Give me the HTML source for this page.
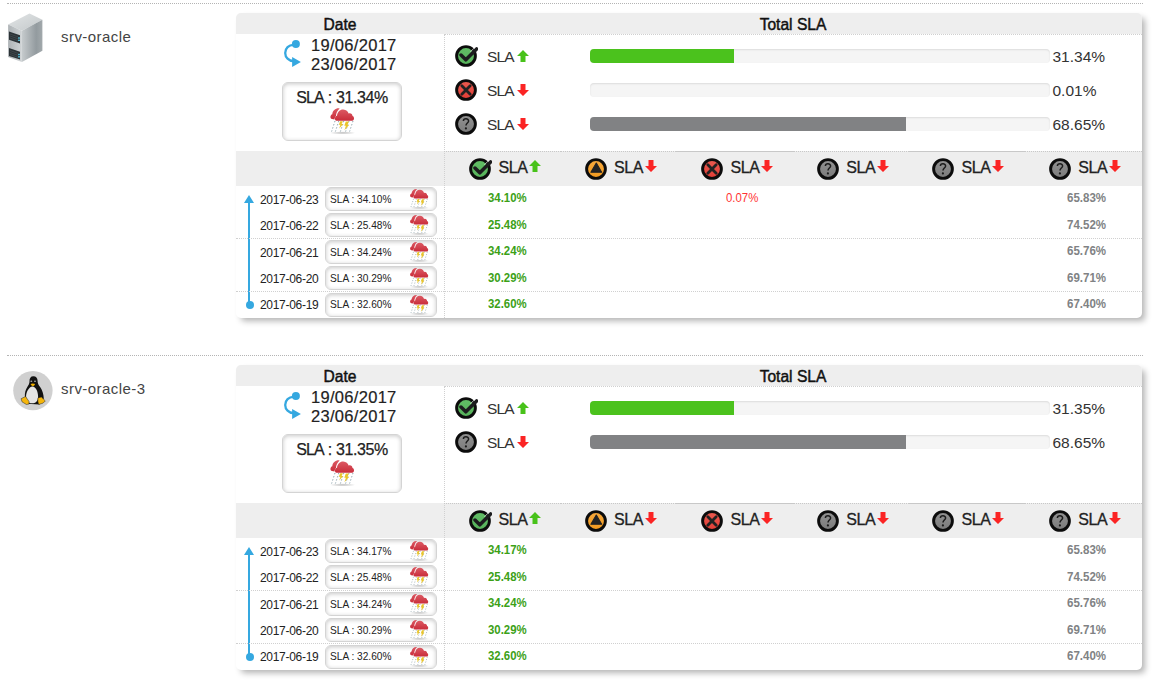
<!DOCTYPE html>
<html><head><meta charset="utf-8"><title>SLA</title><style>
*{box-sizing:border-box}
html,body{margin:0;padding:0;background:#fff}
body{width:1153px;height:682px;overflow:hidden;position:relative;font-family:"Liberation Sans", sans-serif;color:#333}
.sec{position:absolute;left:0;width:1153px;height:352px}
.hr{position:absolute;left:7px;top:3px;width:1136px;border-top:1px dotted #b4b4b4}
.hicon{position:absolute}
.host{position:absolute;left:61px;top:28px;font-size:15px;letter-spacing:0.45px;color:#444;white-space:nowrap}
.panel{position:absolute;left:236px;top:13px;width:906px;height:305px;background:#fff;border-radius:5px;box-shadow:4px 4px 6px -1px rgba(0,0,0,.3)}
.hdr{position:absolute;left:0;top:0;width:906px;height:21px;background:#eee;border-radius:5px 5px 0 0}
.t{position:absolute;white-space:nowrap;line-height:1}
.hd{top:4.1px;text-align:center;font-size:15.6px;color:#111;-webkit-text-stroke:0.45px #111}
.dl-h{position:absolute;height:0;border-top:1px dotted #d0d0d0}
.dl-v{position:absolute;width:0;border-left:1px dotted #d0d0d0}
.rng{position:absolute;left:46px;top:26px;width:20px;height:30px}
.dt{left:75px;font-size:16.5px;color:#222;letter-spacing:0.3px;-webkit-text-stroke:0.2px #222}
.bigbox{position:absolute;left:46px;top:69px;width:120px;height:59px;border:1px solid #d4d4d4;border-radius:6px;box-shadow:inset 0 1px 4px rgba(0,0,0,.22)}
.wx{position:absolute}
.st{position:absolute;width:24px;height:24px}
.ar{position:absolute;width:12px;height:12px}
.sla{font-size:15.5px;color:#333;letter-spacing:-0.8px}
.bar{position:absolute;left:354px;width:460px;height:14px;background:#f5f5f5;border-radius:4px;box-shadow:inset 0 1px 2px rgba(0,0,0,.1);overflow:hidden}
.fill{height:14px}
.fill.ok{background:#4bc21d}
.fill.crit{background:#e33}
.fill.unk{background:#818284}
.pct{left:816.5px;font-size:15.5px;color:#333}
.sub{position:absolute;left:0;top:138px;width:906px;height:35px;background:#eee}
.sb-top{position:absolute;top:138px;height:0;border-top:1px #c8c8c8}
.slah{font-size:16px;color:#222;letter-spacing:-0.4px;-webkit-text-stroke:0.3px #222}
.tl-line{position:absolute;left:12px;top:189px;width:2px;height:103px;background:#35a8e0}
.tl-dot{position:absolute;left:9.7px;top:287.8px;width:8px;height:8px;border-radius:50%;background:#35a8e0}
.tl-arrow{position:absolute;left:8.4px;top:181.6px;width:0;height:0;border-left:5.3px solid transparent;border-right:5.2px solid transparent;border-bottom:8.2px solid #35a8e0}
.rd{left:24px;font-size:12px;letter-spacing:-0.3px;color:#222}
.sbox{position:absolute;left:89px;width:112px;height:23.5px;border:1px solid #d4d4d4;border-radius:6px;box-shadow:inset 0 1px 4px rgba(0,0,0,.22)}
.rs{left:94px;font-size:11.6px;color:#222;transform:scaleX(0.875);transform-origin:0 0}
.vok{left:251.8px;font-size:12.6px;font-weight:bold;color:#3ca117;transform:scaleX(0.905);transform-origin:0 0}
.vcrit{left:490px;font-size:12.4px;color:#f33;transform:scaleX(0.92);transform-origin:0 0}
.vunk{left:831px;font-size:12.6px;font-weight:bold;color:#808284;transform:scaleX(0.915);transform-origin:0 0}
</style></head>
<body>
<svg width="0" height="0" style="position:absolute">
<defs>
<linearGradient id="g-ok" x1="0" y1="0" x2="0" y2="1"><stop offset="0" stop-color="#62bd66"/><stop offset="1" stop-color="#56b25a"/></linearGradient>
<linearGradient id="g-crit" x1="0" y1="0" x2="0" y2="1"><stop offset="0" stop-color="#ea5b50"/><stop offset="1" stop-color="#e23d36"/></linearGradient>
<linearGradient id="g-unk" x1="0" y1="0" x2="0" y2="1"><stop offset="0" stop-color="#939393"/><stop offset="1" stop-color="#7a7a7a"/></linearGradient>
<linearGradient id="g-warn" x1="0" y1="0" x2="0" y2="1"><stop offset="0" stop-color="#f6a93e"/><stop offset="1" stop-color="#f29a1e"/></linearGradient>
<symbol id="i-ok" viewBox="0 0 24 24"><circle cx="12" cy="12" r="9.4" fill="url(#g-ok)" stroke="#0c0c0c" stroke-width="2.9"/><path d="M7 11 L11.8 15.8 L22.6 4.9" fill="none" stroke="#1c1c1e" stroke-width="3.5" stroke-linecap="round" stroke-linejoin="round"/><path d="M16.5 7.7 L20.2 4" fill="none" stroke="#fff" stroke-opacity="0.85" stroke-width="0.8"/></symbol>
<symbol id="i-crit" viewBox="0 0 24 24"><circle cx="12" cy="12" r="9.4" fill="url(#g-crit)" stroke="#0c0c0c" stroke-width="2.9"/><path d="M7.8 7.8 L16.2 16.2 M16.2 7.8 L7.8 16.2" stroke="#222" stroke-width="2.8" stroke-linecap="round"/></symbol>
<symbol id="i-unk" viewBox="0 0 24 24"><circle cx="12" cy="12" r="9.4" fill="url(#g-unk)" stroke="#0c0c0c" stroke-width="2.9"/><path d="M9.4 8.9 C9.4 6.2 14.6 6.0 14.6 8.9 C14.6 11 12 11.2 12 13.6" fill="none" stroke="#1c1c1c" stroke-width="1.5"/><circle cx="11.9" cy="16.4" r="1.1" fill="#1c1c1c"/></symbol>
<symbol id="i-warn" viewBox="0 0 24 24"><circle cx="12" cy="12" r="9.4" fill="url(#g-warn)" stroke="#0c0c0c" stroke-width="2.9"/><path d="M12.3 6 L17.7 15.2 L6.9 15.2 Z" fill="#232323" stroke="#232323" stroke-width="1.1" stroke-linejoin="round"/></symbol>
<symbol id="a-up" viewBox="0 0 12 12"><path d="M6 0 L12 6 L8.5 6 L8.5 12 L3.5 12 L3.5 6 L0 6 Z" fill="#48c21a"/></symbol>
<symbol id="a-dn" viewBox="0 0 12 12"><path d="M3.5 0 L8.5 0 L8.5 6 L12 6 L6 12 L0 6 L3.5 6 Z" fill="#fb2424"/></symbol>
<radialGradient id="wx-shadow" cx="0.5" cy="0.5" r="0.5"><stop offset="0" stop-color="#bbb"/><stop offset="1" stop-color="#bbb" stop-opacity="0"/></radialGradient>
<linearGradient id="wx-red" x1="0" y1="0" x2="0" y2="1"><stop offset="0" stop-color="#dc5a64"/><stop offset="1" stop-color="#c92d3a"/></linearGradient>
<symbol id="wx" viewBox="0 0 28 28">
<ellipse cx="13.6" cy="25.9" rx="13" ry="1.6" fill="url(#wx-shadow)"/>
<g stroke="#7f97a1" stroke-width="0.9" stroke-dasharray="1.3 2"><path d="M6 14 L2.6 24.5"/><path d="M9.8 14 L6.4 24.5"/><path d="M14.8 14 L11.4 24.5"/><path d="M20 14 L16.6 24.5"/><path d="M24 14 L20.6 24.5"/></g>
<path d="M3 12 C0.8 11.5 1 7.8 3.3 7.2 C3.5 3.5 7 0.8 10.6 1.4 C8.4 3.5 7 6.2 7 9 C6 10 5.5 11.5 5.5 12.5 Z" fill="url(#wx-red)"/>
<path d="M7.5 13.8 C5.3 13.5 5.4 9.2 8 8.8 C8.3 4.8 11 2.3 14.3 2.4 C17.2 2.5 19 4.5 19.6 6.4 C21.5 5.5 23.6 7 23.5 9 C25.6 9.5 25.6 13.6 23.2 13.8 Z" fill="url(#wx-red)"/>
<path d="M11.2 14.3 L13.9 14.3 L12.6 17 L14.2 17 L10.2 21.5 L11.4 17.8 L9.8 17.8 Z" fill="#eac52a"/>
<path d="M16.8 14.6 L20 14.6 L18.4 17.9 L20.1 17.9 L15.4 23.2 L16.9 18.8 L15.3 18.8 Z" fill="#eac52a"/>
</symbol>
</defs></svg>
<div class="sec" style="top:0px">
<div class="hr"></div>
<svg class="hicon" style="left:6px;top:11px;width:40px;height:54px" viewBox="6 11 40 54">
<defs>
<linearGradient id="sv-top" x1="0" y1="0" x2="1" y2="1"><stop offset="0" stop-color="#e2e5e6"/><stop offset="1" stop-color="#c3c8ca"/></linearGradient>
<linearGradient id="sv-right" x1="0" y1="0" x2="1" y2="0"><stop offset="0" stop-color="#c6cbcd"/><stop offset="0.3" stop-color="#b0b6b9"/><stop offset="0.7" stop-color="#939b9f"/><stop offset="1" stop-color="#a2a9ac"/></linearGradient>
<linearGradient id="sv-front" x1="0" y1="0" x2="1" y2="0"><stop offset="0" stop-color="#aeb3b6"/><stop offset="1" stop-color="#d0d4d6"/></linearGradient>
</defs>
<path d="M8.1 24.5 L29.5 13.4 L42.4 19.8 L21.9 30.7 Z" fill="url(#sv-top)"/>
<path d="M21.9 30.7 L42.4 19.8 L42.4 50.7 L21.9 62.1 Z" fill="url(#sv-right)"/>
<path d="M8.1 24.5 L21.9 30.7 L21.9 62.1 L8.1 56.9 Z" fill="url(#sv-front)"/>
<path d="M9 31.5 L20 35.3 L20 43.5 L9 39.8 Z" fill="#2b3236"/>
<path d="M9 48 L20 51.8 L20 59.6 L9 56 Z" fill="#2b3236"/>
<path d="M10 34 L18 36.8 M10 36 L18 38.8 M10 38 L18 40.8 M10 50.5 L18 53.3 M10 52.5 L18 55.3 M10 54.5 L18 57.3" stroke="#4b5358" stroke-width="0.6"/>
<rect x="18.2" y="37.3" width="1.6" height="1.4" fill="#5fd0ee"/><rect x="18.2" y="39.6" width="1.6" height="1.4" fill="#5fd0ee"/>
<rect x="18.2" y="53.8" width="1.6" height="1.4" fill="#5fd0ee"/><rect x="18.2" y="56.1" width="1.6" height="1.4" fill="#5fd0ee"/>
</svg>
<div class="host">srv-oracle</div>
<div class="panel">
<div class="hdr"></div>
<div class="t hd" style="left:0;width:208px">Date</div>
<div class="t hd" style="left:208px;width:698px">Total SLA</div>
<div class="dl-h" style="left:208px;top:21px;width:698px"></div>
<svg class="rng" viewBox="0 0 20 30"><path d="M11.3 5.8 A8.1 8.1 0 0 0 11.3 22" fill="none" stroke="#35a8e0" stroke-width="2.3"/><circle cx="13.9" cy="5" r="4" fill="#35a8e0"/><path d="M10.1 17.9 L18.9 22.9 L10.1 27.9 Z" fill="#35a8e0"/></svg>
<div class="t dt" style="top:24px">19/06/2017</div>
<div class="t dt" style="top:43px">23/06/2017</div>
<div class="bigbox"><div class="t" style="left:0;width:118px;top:6.5px;text-align:center;font-size:16px;color:#222;letter-spacing:-0.4px;-webkit-text-stroke:0.25px #222"><span style="letter-spacing:-0.9px">SLA</span> : 31.34%</div></div>
<svg class="wx" style="left:93px;top:94px;width:28px;height:28px" viewBox="0 0 28 28"><use href="#wx"/></svg>
<svg class="st" style="left:218px;top:31px" viewBox="0 0 24 24"><use href="#i-ok"/></svg>
<div class="t sla" style="left:251px;top:35.6px">SLA</div>
<svg class="ar" style="left:281px;top:37px" viewBox="0 0 12 12"><use href="#a-up"/></svg>
<div class="bar" style="top:36px"><div class="fill ok" style="width:31.34%"></div></div>
<div class="t pct" style="top:35.6px">31.34%</div>
<svg class="st" style="left:218px;top:65px" viewBox="0 0 24 24"><use href="#i-crit"/></svg>
<div class="t sla" style="left:251px;top:69.6px">SLA</div>
<svg class="ar" style="left:281px;top:71px" viewBox="0 0 12 12"><use href="#a-dn"/></svg>
<div class="bar" style="top:70px"><div class="fill crit" style="width:0.01%"></div></div>
<div class="t pct" style="top:69.6px">0.01%</div>
<svg class="st" style="left:218px;top:99px" viewBox="0 0 24 24"><use href="#i-unk"/></svg>
<div class="t sla" style="left:251px;top:103.6px">SLA</div>
<svg class="ar" style="left:281px;top:105px" viewBox="0 0 12 12"><use href="#a-dn"/></svg>
<div class="bar" style="top:104px"><div class="fill unk" style="width:68.65%"></div></div>
<div class="t pct" style="top:103.6px">68.65%</div>
<div class="sub"></div>
<div class="dl-v" style="left:208px;top:21px;height:284px"></div>
<div class="sb-top" style="left:208px;width:117px;border-top-style:dotted"></div>
<div class="sb-top" style="left:325px;width:115px;border-top-style:dotted"></div>
<div class="sb-top" style="left:440px;width:118px;border-top-style:solid"></div>
<div class="sb-top" style="left:558px;width:115px;border-top-style:dotted"></div>
<div class="sb-top" style="left:673px;width:115px;border-top-style:solid"></div>
<div class="sb-top" style="left:788px;width:118px;border-top-style:dotted"></div>
<svg class="st" style="left:232px;top:144px" viewBox="0 0 24 24"><use href="#i-ok"/></svg>
<div class="t slah" style="left:262.5px;top:147px">SLA</div>
<svg class="ar" style="left:293px;top:147px" viewBox="0 0 12 12"><use href="#a-up"/></svg>
<svg class="st" style="left:347.6px;top:144px" viewBox="0 0 24 24"><use href="#i-warn"/></svg>
<div class="t slah" style="left:378.1px;top:147px">SLA</div>
<svg class="ar" style="left:408.6px;top:147px" viewBox="0 0 12 12"><use href="#a-dn"/></svg>
<svg class="st" style="left:464.1px;top:144px" viewBox="0 0 24 24"><use href="#i-crit"/></svg>
<div class="t slah" style="left:494.6px;top:147px">SLA</div>
<svg class="ar" style="left:525.1px;top:147px" viewBox="0 0 12 12"><use href="#a-dn"/></svg>
<svg class="st" style="left:579.8px;top:144px" viewBox="0 0 24 24"><use href="#i-unk"/></svg>
<div class="t slah" style="left:610.3px;top:147px">SLA</div>
<svg class="ar" style="left:640.8px;top:147px" viewBox="0 0 12 12"><use href="#a-dn"/></svg>
<svg class="st" style="left:694.9px;top:144px" viewBox="0 0 24 24"><use href="#i-unk"/></svg>
<div class="t slah" style="left:725.4px;top:147px">SLA</div>
<svg class="ar" style="left:755.9px;top:147px" viewBox="0 0 12 12"><use href="#a-dn"/></svg>
<svg class="st" style="left:811.7px;top:144px" viewBox="0 0 24 24"><use href="#i-unk"/></svg>
<div class="t slah" style="left:842.2px;top:147px">SLA</div>
<svg class="ar" style="left:872.7px;top:147px" viewBox="0 0 12 12"><use href="#a-dn"/></svg>
<div class="tl-line"></div><div class="tl-dot"></div><div class="tl-arrow"></div>
<div class="t rd" style="top:180.6px">2017-06-23</div>
<div class="sbox" style="top:174px"></div>
<div class="t rs" style="top:179.6px">SLA : 34.10%</div>
<svg class="wx" style="left:173px;top:175px;width:21.5px;height:21.5px" viewBox="0 0 28 28"><use href="#wx"/></svg>
<div class="t vok" style="top:179.4px">34.10%</div>
<div class="t vcrit" style="top:179.4px">0.07%</div>
<div class="t vunk" style="top:179.4px">65.83%</div>
<div class="t rd" style="top:206.9px">2017-06-22</div>
<div class="sbox" style="top:200px"></div>
<div class="t rs" style="top:205.9px">SLA : 25.48%</div>
<svg class="wx" style="left:173px;top:201px;width:21.5px;height:21.5px" viewBox="0 0 28 28"><use href="#wx"/></svg>
<div class="t vok" style="top:205.70000000000002px">25.48%</div>
<div class="t vunk" style="top:205.70000000000002px">74.52%</div>
<div class="t rd" style="top:233.6px">2017-06-21</div>
<div class="sbox" style="top:227px"></div>
<div class="t rs" style="top:232.6px">SLA : 34.24%</div>
<svg class="wx" style="left:173px;top:228px;width:21.5px;height:21.5px" viewBox="0 0 28 28"><use href="#wx"/></svg>
<div class="t vok" style="top:232.4px">34.24%</div>
<div class="t vunk" style="top:232.4px">65.76%</div>
<div class="t rd" style="top:259.7px">2017-06-20</div>
<div class="sbox" style="top:253px"></div>
<div class="t rs" style="top:258.7px">SLA : 30.29%</div>
<svg class="wx" style="left:173px;top:254px;width:21.5px;height:21.5px" viewBox="0 0 28 28"><use href="#wx"/></svg>
<div class="t vok" style="top:258.5px">30.29%</div>
<div class="t vunk" style="top:258.5px">69.71%</div>
<div class="t rd" style="top:285.8px">2017-06-19</div>
<div class="sbox" style="top:280px"></div>
<div class="t rs" style="top:284.8px">SLA : 32.60%</div>
<svg class="wx" style="left:173px;top:281px;width:21.5px;height:21.5px" viewBox="0 0 28 28"><use href="#wx"/></svg>
<div class="t vok" style="top:284.6px">32.60%</div>
<div class="t vunk" style="top:284.6px">67.40%</div>
<div class="dl-h" style="left:0;top:225px;width:906px"></div>
<div class="dl-h" style="left:0;top:278px;width:906px"></div>
</div>
</div>
<div class="sec" style="top:352px">
<div class="hr"></div>
<svg class="hicon" style="left:13px;top:18px;width:40px;height:41px" viewBox="13 18 40 41">
<circle cx="32.9" cy="38.6" r="19.7" fill="#d0d0d0"/>
<path d="M33.4 24.3 C30.6 24.3 29.4 26.4 29.5 29.3 C29.6 31.5 28.6 33 27.3 35 C25.5 37.8 24.6 41 24.9 44.5 L27 51.8 L39.5 52.6 L43.8 46.5 C43.6 42 42.2 38 40.3 35.3 C38.6 33 37.6 31.5 37.6 29 C37.6 26 36 24.3 33.4 24.3 Z" fill="#111"/>
<path d="M32.4 34.6 C29 34.9 26 40.3 26.1 44.8 C26.2 49.4 29 51.3 32 51.3 C35.5 51.3 38.1 49.4 38.1 44.8 C38.1 39.8 35.9 34.8 32.4 34.6 Z" fill="#e4e4e4"/>
<ellipse cx="31.3" cy="29.3" rx="1" ry="0.8" fill="#aaa"/>
<ellipse cx="35" cy="29.3" rx="1" ry="0.8" fill="#aaa"/>
<path d="M30.5 32 Q32.8 30.8 35.2 32 Q34 34.2 32.8 34.2 Q31.5 34 30.5 32 Z" fill="#f0b000"/>
<path d="M21.1 46.7 L25.5 44.5 L29 49.4 L29 52 L26.4 52.5 L22 49.8 Z" fill="#f5b50a" stroke="#222" stroke-width="0.5" stroke-linejoin="round"/>
<path d="M37.9 45.9 L41.4 45 L45.3 48.9 L43.1 51.1 L38.7 52.5 L37.9 49.4 Z" fill="#f5b50a" stroke="#222" stroke-width="0.5" stroke-linejoin="round"/>
</svg>
<div class="host">srv-oracle-3</div>
<div class="panel">
<div class="hdr"></div>
<div class="t hd" style="left:0;width:208px">Date</div>
<div class="t hd" style="left:208px;width:698px">Total SLA</div>
<div class="dl-h" style="left:208px;top:21px;width:698px"></div>
<svg class="rng" viewBox="0 0 20 30"><path d="M11.3 5.8 A8.1 8.1 0 0 0 11.3 22" fill="none" stroke="#35a8e0" stroke-width="2.3"/><circle cx="13.9" cy="5" r="4" fill="#35a8e0"/><path d="M10.1 17.9 L18.9 22.9 L10.1 27.9 Z" fill="#35a8e0"/></svg>
<div class="t dt" style="top:24px">19/06/2017</div>
<div class="t dt" style="top:43px">23/06/2017</div>
<div class="bigbox"><div class="t" style="left:0;width:118px;top:6.5px;text-align:center;font-size:16px;color:#222;letter-spacing:-0.4px;-webkit-text-stroke:0.25px #222"><span style="letter-spacing:-0.9px">SLA</span> : 31.35%</div></div>
<svg class="wx" style="left:93px;top:94px;width:28px;height:28px" viewBox="0 0 28 28"><use href="#wx"/></svg>
<svg class="st" style="left:218px;top:31px" viewBox="0 0 24 24"><use href="#i-ok"/></svg>
<div class="t sla" style="left:251px;top:35.6px">SLA</div>
<svg class="ar" style="left:281px;top:37px" viewBox="0 0 12 12"><use href="#a-up"/></svg>
<div class="bar" style="top:36px"><div class="fill ok" style="width:31.35%"></div></div>
<div class="t pct" style="top:35.6px">31.35%</div>
<svg class="st" style="left:218px;top:65px" viewBox="0 0 24 24"><use href="#i-unk"/></svg>
<div class="t sla" style="left:251px;top:69.6px">SLA</div>
<svg class="ar" style="left:281px;top:71px" viewBox="0 0 12 12"><use href="#a-dn"/></svg>
<div class="bar" style="top:70px"><div class="fill unk" style="width:68.65%"></div></div>
<div class="t pct" style="top:69.6px">68.65%</div>
<div class="sub"></div>
<div class="dl-v" style="left:208px;top:21px;height:284px"></div>
<div class="sb-top" style="left:208px;width:117px;border-top-style:dotted"></div>
<div class="sb-top" style="left:325px;width:115px;border-top-style:dotted"></div>
<div class="sb-top" style="left:440px;width:118px;border-top-style:solid"></div>
<div class="sb-top" style="left:558px;width:115px;border-top-style:dotted"></div>
<div class="sb-top" style="left:673px;width:115px;border-top-style:solid"></div>
<div class="sb-top" style="left:788px;width:118px;border-top-style:dotted"></div>
<svg class="st" style="left:232px;top:144px" viewBox="0 0 24 24"><use href="#i-ok"/></svg>
<div class="t slah" style="left:262.5px;top:147px">SLA</div>
<svg class="ar" style="left:293px;top:147px" viewBox="0 0 12 12"><use href="#a-up"/></svg>
<svg class="st" style="left:347.6px;top:144px" viewBox="0 0 24 24"><use href="#i-warn"/></svg>
<div class="t slah" style="left:378.1px;top:147px">SLA</div>
<svg class="ar" style="left:408.6px;top:147px" viewBox="0 0 12 12"><use href="#a-dn"/></svg>
<svg class="st" style="left:464.1px;top:144px" viewBox="0 0 24 24"><use href="#i-crit"/></svg>
<div class="t slah" style="left:494.6px;top:147px">SLA</div>
<svg class="ar" style="left:525.1px;top:147px" viewBox="0 0 12 12"><use href="#a-dn"/></svg>
<svg class="st" style="left:579.8px;top:144px" viewBox="0 0 24 24"><use href="#i-unk"/></svg>
<div class="t slah" style="left:610.3px;top:147px">SLA</div>
<svg class="ar" style="left:640.8px;top:147px" viewBox="0 0 12 12"><use href="#a-dn"/></svg>
<svg class="st" style="left:694.9px;top:144px" viewBox="0 0 24 24"><use href="#i-unk"/></svg>
<div class="t slah" style="left:725.4px;top:147px">SLA</div>
<svg class="ar" style="left:755.9px;top:147px" viewBox="0 0 12 12"><use href="#a-dn"/></svg>
<svg class="st" style="left:811.7px;top:144px" viewBox="0 0 24 24"><use href="#i-unk"/></svg>
<div class="t slah" style="left:842.2px;top:147px">SLA</div>
<svg class="ar" style="left:872.7px;top:147px" viewBox="0 0 12 12"><use href="#a-dn"/></svg>
<div class="tl-line"></div><div class="tl-dot"></div><div class="tl-arrow"></div>
<div class="t rd" style="top:180.6px">2017-06-23</div>
<div class="sbox" style="top:174px"></div>
<div class="t rs" style="top:179.6px">SLA : 34.17%</div>
<svg class="wx" style="left:173px;top:175px;width:21.5px;height:21.5px" viewBox="0 0 28 28"><use href="#wx"/></svg>
<div class="t vok" style="top:179.4px">34.17%</div>
<div class="t vunk" style="top:179.4px">65.83%</div>
<div class="t rd" style="top:206.9px">2017-06-22</div>
<div class="sbox" style="top:200px"></div>
<div class="t rs" style="top:205.9px">SLA : 25.48%</div>
<svg class="wx" style="left:173px;top:201px;width:21.5px;height:21.5px" viewBox="0 0 28 28"><use href="#wx"/></svg>
<div class="t vok" style="top:205.70000000000002px">25.48%</div>
<div class="t vunk" style="top:205.70000000000002px">74.52%</div>
<div class="t rd" style="top:233.6px">2017-06-21</div>
<div class="sbox" style="top:227px"></div>
<div class="t rs" style="top:232.6px">SLA : 34.24%</div>
<svg class="wx" style="left:173px;top:228px;width:21.5px;height:21.5px" viewBox="0 0 28 28"><use href="#wx"/></svg>
<div class="t vok" style="top:232.4px">34.24%</div>
<div class="t vunk" style="top:232.4px">65.76%</div>
<div class="t rd" style="top:259.7px">2017-06-20</div>
<div class="sbox" style="top:253px"></div>
<div class="t rs" style="top:258.7px">SLA : 30.29%</div>
<svg class="wx" style="left:173px;top:254px;width:21.5px;height:21.5px" viewBox="0 0 28 28"><use href="#wx"/></svg>
<div class="t vok" style="top:258.5px">30.29%</div>
<div class="t vunk" style="top:258.5px">69.71%</div>
<div class="t rd" style="top:285.8px">2017-06-19</div>
<div class="sbox" style="top:280px"></div>
<div class="t rs" style="top:284.8px">SLA : 32.60%</div>
<svg class="wx" style="left:173px;top:281px;width:21.5px;height:21.5px" viewBox="0 0 28 28"><use href="#wx"/></svg>
<div class="t vok" style="top:284.6px">32.60%</div>
<div class="t vunk" style="top:284.6px">67.40%</div>
<div class="dl-h" style="left:0;top:225px;width:906px"></div>
<div class="dl-h" style="left:0;top:278px;width:906px"></div>
</div>
</div>
</body></html>
